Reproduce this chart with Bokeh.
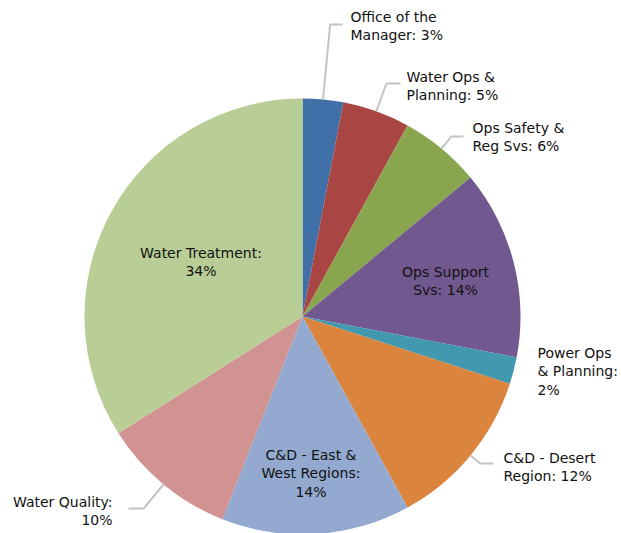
import math
from bokeh.plotting import figure
from bokeh.models import ColumnDataSource, Range1d
from bokeh.embed import file_html
from bokeh.resources import INLINE
from bokeh.core.properties import value

# ---- data ----
categories = ["Office of the Manager", "Water Ops & Planning", "Ops Safety & Reg Svs",
              "Ops Support Svs", "Power Ops & Planning", "C&D - Desert Region",
              "C&D - East & West Regions", "Water Quality", "Water Treatment"]
shares = [3, 5, 6, 14, 2, 12, 14, 10, 34]
colors = ["#4170A8", "#A94643", "#89A54E", "#71588F", "#4198AF",
          "#DB843D", "#93A9CF", "#D19392", "#B9CD96"]
label_lines = [
    ["Office of the", "Manager: 3%"],
    ["Water Ops &", "Planning: 5%"],
    ["Ops Safety &", "Reg Svs: 6%"],
    ["Ops Support", "Svs: 14%"],
    ["Power Ops", "& Planning:", "2%"],
    ["C&D - Desert", "Region: 12%"],
    ["C&D - East &", "West Regions:", "14%"],
    ["Water Quality:", "10%"],
    ["Water Treatment:", "34%"],
]

# ---- layout (screen pixel positions of label blocks) ----
CX, CY, R = 302, 316, 218
TEXT_DY = -6
label_pos = [  # (x, first baseline y, align)
    (350, 22, "left"),
    (406, 82, "left"),
    (472, 133, "left"),
    (445, 277, "center"),
    (537, 358, "left"),
    (503, 463, "left"),
    (310.5, 460, "center"),
    (112, 507, "right"),
    (200.5, 258, "center"),
]
LINE_H = 18.8
# leader lines: slice index -> (elbow screen y, end screen x)
leaders = {0: (24, 342), 1: (83, 400), 2: (136, 463), 5: (463, 493), 7: (508, 128)}

W, H = 621, 533
OX, OY = 0, 0  # screen position of the figure's top-left corner
p = figure(width=W, height=H, output_backend="svg", toolbar_location=None,
           x_range=Range1d(OX - CX, OX - CX + W), y_range=Range1d(CY - OY - H, CY - OY),
           min_border=0)
p.axis.visible = False
p.grid.visible = False
p.outline_line_color = None
p.background_fill_color = "white"
p.border_fill_color = "white"

total = sum(shares)
starts, ends, mids = [], [], []
cum = 0
for s in shares:
    a0 = cum / total
    cum += s
    a1 = cum / total
    starts.append(math.pi / 2 - 2 * math.pi * a0)
    ends.append(math.pi / 2 - 2 * math.pi * a1)
    mids.append(2 * math.pi * (a0 + a1) / 2)  # clockwise from top

src = ColumnDataSource(dict(start=starts, end=ends, color=colors, cat=categories))
p.wedge(x=0, y=0, radius=R, start_angle="start", end_angle="end", direction="clock",
        fill_color="color", line_color=None, source=src)

# leader lines
for i, (ey, ex) in leaders.items():
    th = mids[i]
    x0, y0 = R * math.sin(th), R * math.cos(th)
    yp = CY - ey
    t = yp / math.cos(th)
    x1 = t * math.sin(th)
    p.line([x0, x1, ex - CX], [y0, yp, yp], line_color="#C4C4C4", line_width=2)

# labels
tx, ty, tt, ta = [], [], [], []
for lines, (lx, ly, al) in zip(label_lines, label_pos):
    for k, ln in enumerate(lines):
        tx.append(lx - CX)
        ty.append(CY - (ly + TEXT_DY + k * LINE_H))
        tt.append(ln)
        ta.append(al)
for al in ("left", "center", "right"):
    idx = [j for j in range(len(tt)) if ta[j] == al]
    s = ColumnDataSource(dict(x=[tx[j] for j in idx], y=[ty[j] for j in idx],
                              t=[tt[j] for j in idx]))
    p.text(x="x", y="y", text="t", source=s, text_align=al, text_baseline="alphabetic",
           text_font=value("DejaVu Sans"), text_font_size="14px", text_color="#111111")

open("out.html", "w").write(file_html(p, INLINE))
